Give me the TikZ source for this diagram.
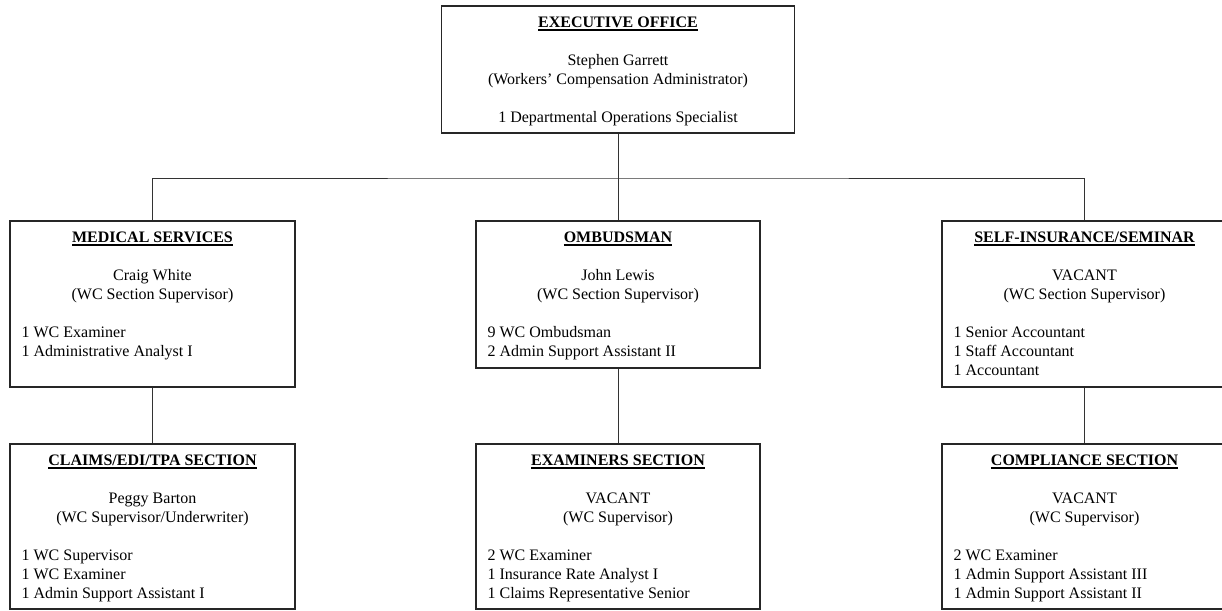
\documentclass[tikz,border=0pt]{standalone}
\usepackage{fontspec}
\setmainfont{Liberation Serif}
\usetikzlibrary{calc}
\newcommand\ulttl[1]{\setbox0\hbox{\bfseries #1}\rlap{\rule[-3.2pt]{\wd0}{1.3pt}}\box0}
\tikzset{
  orgbox/.style={draw=black!85, line width=1.2pt, inner sep=0pt, fill=none},
  ttl/.style={anchor=base, inner sep=0pt, font=\fontsize{16}{19}\selectfont},
  ln/.style={anchor=base, inner sep=0pt, font=\fontsize{16}{19}\selectfont, text=black},
  lst/.style={anchor=base west, inner sep=0pt, font=\fontsize{16}{19}\selectfont, text=black},
  conn/.style={draw=black!80, line width=0.9pt}
}
\begin{document}
\begin{tikzpicture}[x=1pt,y=-1pt]
\useasboundingbox (0,0) rectangle (1222,610);
% boxes
\node[orgbox, minimum width=353pt, minimum height=127pt] (exec) at (618,69.5) {};
\node[orgbox, minimum width=285pt, minimum height=166pt] (med) at (152.5,304) {};
\node[orgbox, minimum width=284pt, minimum height=147pt] (omb) at (618,294.5) {};
\node[orgbox, minimum width=285pt, minimum height=166pt] (self) at (1084.5,304) {};
\node[orgbox, minimum width=285pt, minimum height=165pt] (claims) at (152.5,526.5) {};
\node[orgbox, minimum width=284pt, minimum height=165pt] (exam) at (618,526.5) {};
\node[orgbox, minimum width=285pt, minimum height=165pt] (comp) at (1084.5,526.5) {};
% connectors
\coordinate (bus) at (618,178);
\draw[conn] (exec.south) -- (bus);
\draw[conn] (med.north) |- (bus) -| (self.north);
\draw[conn] (bus) -- (omb.north);
\draw[conn] (med.south) -- (claims.north);
\draw[conn] (omb.south) -- (exam.north);
\draw[conn] (self.south) -- (comp.north);
% executive
\node[ttl] (exec-t) at ($(exec.north)+(0,22)$) {\ulttl{EXECUTIVE OFFICE}};
\node[ln] (exec-n) at ($(exec.north)+(0,60)$) {Stephen Garrett};
\node[ln] (exec-r) at ($(exec.north)+(0,79)$) {(Workers’ Compensation Administrator)};
\node[ln] (exec-1) at ($(exec.north)+(0,117)$) {1 Departmental Operations Specialist};
% medical
\node[ttl] (med-t) at ($(med.north)+(0,22)$) {\ulttl{MEDICAL SERVICES}};
\node[ln] (med-n) at ($(med.north)+(0,60)$) {Craig White};
\node[ln] (med-r) at ($(med.north)+(0,79)$) {(WC Section Supervisor)};
\node[lst] (med-1) at ($(med.north west)+(12,117)$) {1 WC Examiner};
\node[lst] (med-2) at ($(med.north west)+(12,136)$) {1 Administrative Analyst I};
% ombudsman
\node[ttl] (omb-t) at ($(omb.north)+(0,22)$) {\ulttl{OMBUDSMAN}};
\node[ln] (omb-n) at ($(omb.north)+(0,60)$) {John Lewis};
\node[ln] (omb-r) at ($(omb.north)+(0,79)$) {(WC Section Supervisor)};
\node[lst] (omb-1) at ($(omb.north west)+(12,117)$) {9 WC Ombudsman};
\node[lst] (omb-2) at ($(omb.north west)+(12,136)$) {2 Admin Support Assistant II};
% self-insurance
\node[ttl] (self-t) at ($(self.north)+(0,22)$) {\ulttl{SELF-INSURANCE/SEMINAR}};
\node[ln] (self-n) at ($(self.north)+(0,60)$) {VACANT};
\node[ln] (self-r) at ($(self.north)+(0,79)$) {(WC Section Supervisor)};
\node[lst] (self-1) at ($(self.north west)+(12,117)$) {1 Senior Accountant};
\node[lst] (self-2) at ($(self.north west)+(12,136)$) {1 Staff Accountant};
\node[lst] (self-3) at ($(self.north west)+(12,155)$) {1 Accountant};
% claims
\node[ttl] (claims-t) at ($(claims.north)+(0,22)$) {\ulttl{CLAIMS/EDI/TPA SECTION}};
\node[ln] (claims-n) at ($(claims.north)+(0,60)$) {Peggy Barton};
\node[ln] (claims-r) at ($(claims.north)+(0,79)$) {(WC Supervisor/Underwriter)};
\node[lst] (claims-1) at ($(claims.north west)+(12,117)$) {1 WC Supervisor};
\node[lst] (claims-2) at ($(claims.north west)+(12,136)$) {1 WC Examiner};
\node[lst] (claims-3) at ($(claims.north west)+(12,155)$) {1 Admin Support Assistant I};
% examiners
\node[ttl] (exam-t) at ($(exam.north)+(0,22)$) {\ulttl{EXAMINERS SECTION}};
\node[ln] (exam-n) at ($(exam.north)+(0,60)$) {VACANT};
\node[ln] (exam-r) at ($(exam.north)+(0,79)$) {(WC Supervisor)};
\node[lst] (exam-1) at ($(exam.north west)+(12,117)$) {2 WC Examiner};
\node[lst] (exam-2) at ($(exam.north west)+(12,136)$) {1 Insurance Rate Analyst I};
\node[lst] (exam-3) at ($(exam.north west)+(12,155)$) {1 Claims Representative Senior};
% compliance
\node[ttl] (comp-t) at ($(comp.north)+(0,22)$) {\ulttl{COMPLIANCE SECTION}};
\node[ln] (comp-n) at ($(comp.north)+(0,60)$) {VACANT};
\node[ln] (comp-r) at ($(comp.north)+(0,79)$) {(WC Supervisor)};
\node[lst] (comp-1) at ($(comp.north west)+(12,117)$) {2 WC Examiner};
\node[lst] (comp-2) at ($(comp.north west)+(12,136)$) {1 Admin Support Assistant III};
\node[lst] (comp-3) at ($(comp.north west)+(12,155)$) {1 Admin Support Assistant II};
\end{tikzpicture}
\end{document}
